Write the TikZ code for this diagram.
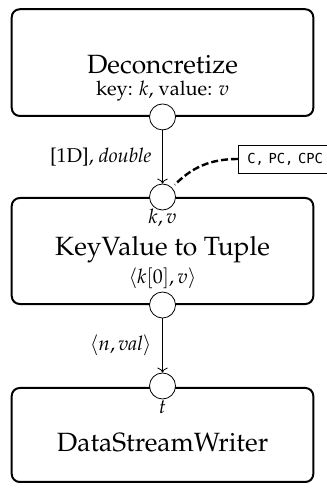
\documentclass[tikz,border=0pt]{standalone}
\usepackage[no-math]{fontspec}
\newfontfamily\notefont{DejaVu Sans Mono}
\usepackage[T1]{fontenc}
\usepackage{mathpazo}
\usepackage{amsmath}
\usepackage{tikz}
\usetikzlibrary{arrows.meta}
\usetikzlibrary{calc}

\tikzset{
	block/.style={draw,line width=1pt,rounded corners=4pt,minimum width=5.30cm,fill=white},
	port/.style={draw,circle,fill=white,inner sep=0pt,minimum size=0.457cm},
	title/.style={font=\fontsize{13.2}{16}\selectfont},
	note/.style={draw,anchor=west,inner xsep=4.5pt,text width=1.7cm,align=left,minimum height=0.49cm,font=\notefont\fontsize{6.9}{7.5}\selectfont}
}

\begin{document}
\begin{tikzpicture}
		
		% Frame
		\useasboundingbox (0,0) rectangle (5.729,-8.646);
		
		% Blocks
		\node[block,minimum height=1.875cm] (deconc) at (2.856,-1.100) {};
		\node[block,minimum height=1.863cm] (kvtup) at (2.856,-4.411) {};
		\node[block,minimum height=1.652cm] (writer) at (2.856,-7.644) {};
		
		% Texts in the blocks
		\node[title] (deconctitle) at (2.856,-1.130) {Deconcretize};
		\node (deconcsub) at (2.856,-1.600) {key: $k$, value: $v$};
		\node (kvin) at (2.856,-3.831) {$k,v$};
		\node[title] (kvtitle) at (2.856,-4.393) {KeyValue to Tuple};
		\node (kvout) at (2.856,-4.885) {$\langle k[0],v\rangle$};
		\node (writerin) at (2.856,-7.152) {$t$};
		\node[title] (writertitle) at (2.856,-7.785) {DataStreamWriter};
		
		% Ports
		\node[port] (p1) at (deconc.south) {};
		\node[port] (p2) at (2.856,-3.462) {};
		\node[port] (p3) at (kvtup.south) {};
		\node[port] (p4) at (2.856,-6.783) {};
		
		% Connections
		\draw[->] (p1) -- (p2) node[midway,left=2pt] {[1D], \textit{double}};
		\draw[->] (p3) -- (p4) node[midway,left=2pt] {$\langle n,\mathit{val}\rangle$};
		
		% Note on the input
		\node[note] (modes) at (4.182,-2.794) {C, PC, CPC};
		\draw[line width=1.2pt,dash pattern=on 3.5pt off 1.5pt,shorten >=2pt] (modes.west) to[out=180,in=45] (p2.45);
		
	\end{tikzpicture}
\end{document}
